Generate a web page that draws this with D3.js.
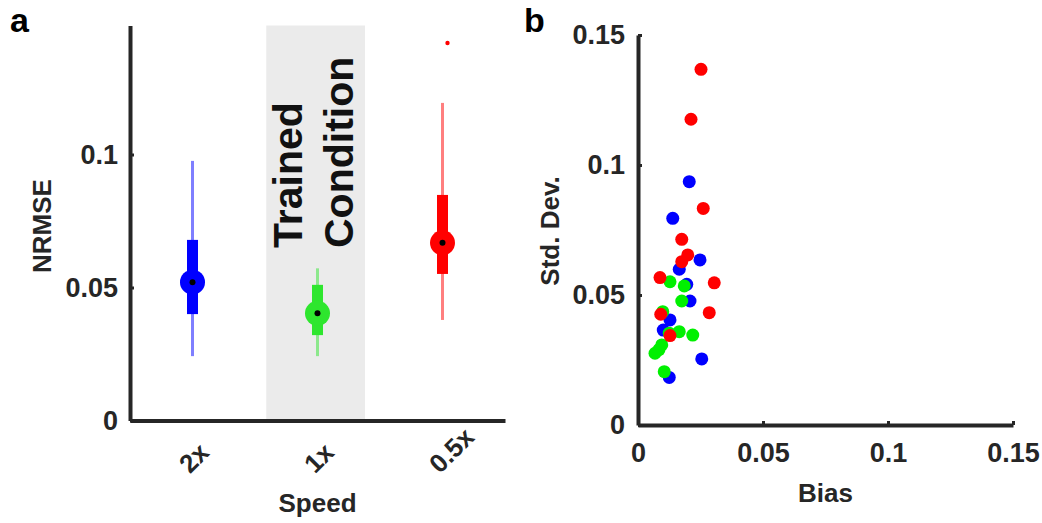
<!DOCTYPE html>
<html lang="en">
<head>
    <meta charset="UTF-8">
    <title>NRMSE by speed / bias vs std. dev.</title>
    <script src="https://d3js.org/d3.v7.min.js"></script>
    <style>
        body { margin: 0; background: #fff; }
        svg { display: block; font-family: "Liberation Sans", Arial, sans-serif; }
        .axis path, .axis line { stroke: #262626; }
        .axis path { stroke-width: 4px; }
        .axis line { stroke-width: 3px; }
        .axis text { fill: #262626; font-size: 27px; font-weight: bold; font-family: "Liberation Sans", Arial, sans-serif; }
        .lbl { fill: #262626; font-size: 26px; font-weight: bold; }
    </style>
</head>
<body>
<svg id="fig" width="1042" height="523"></svg>
<script>
    // panel a: box summary per playback speed
    const speeds = ["2x", "1x", "0.5x"];
    const whiskerLow = [0.0242, 0.0242, 0.0378];
    const q1 = [0.0400, 0.0321, 0.0551];
    const medians = [0.0520, 0.0403, 0.0668];
    const q3 = [0.0679, 0.0510, 0.0848];
    const whiskerHigh = [0.0976, 0.0572, 0.1194];
    const outliers = [{ group: 2, jitter: 0.04, value: 0.1419 }];
    const trainedBand = [1.59, 2.38];
    const yTicksA = [0, 0.05, 0.1];

    // panel b: bias vs std. dev. per speed
    const biasBlue = [0.0205, 0.0139, 0.0248, 0.0165, 0.0195, 0.0208, 0.0128, 0.0101, 0.0255, 0.0125];
    const sdBlue   = [0.0936, 0.0795, 0.0635, 0.0599, 0.0541, 0.0477, 0.0404, 0.0365, 0.0254, 0.0183];
    const biasGreen = [0.0128, 0.0185, 0.0175, 0.0099, 0.0165, 0.0219, 0.0125, 0.0095, 0.0084, 0.0068, 0.0105];
    const sdGreen   = [0.0551, 0.0535, 0.0477, 0.0436, 0.0359, 0.0346, 0.0353, 0.0308, 0.0290, 0.0276, 0.0205];
    const biasRed = [0.0252, 0.0212, 0.0261, 0.0175, 0.0199, 0.0175, 0.0088, 0.0305, 0.0091, 0.0285, 0.0128];
    const sdRed   = [0.1368, 0.1176, 0.0833, 0.0714, 0.0654, 0.0628, 0.0567, 0.0547, 0.0426, 0.0432, 0.0344];
    const ticksB = [0, 0.05, 0.1, 0.15];

    const colors = ["#0000ff", "#2ee62e", "#ff0000"];
    const scatterColors = ["#0000ff", "#00f000", "#ff0000"];

    const svg = d3.select("#fig");

    // ---------- panel a ----------
    const xA = d3.scaleLinear().domain([0.5, 3.5]).range([130, 505]);
    const yA = d3.scaleLinear().domain([0, 0.1485]).range([420.5, 25.5]);

    svg.append("rect")
        .attr("x", xA(trainedBand[0]))
        .attr("y", yA(0.1485))
        .attr("width", xA(trainedBand[1]) - xA(trainedBand[0]))
        .attr("height", yA(0) - yA(0.1485))
        .attr("fill", "#ebebeb");

    const tc = svg.append("text")
        .attr("class", "lbl")
        .attr("transform", `translate(${xA(1.77)},248) rotate(-90)`)
        .style("font-size", "41px")
        .style("fill", "#111");
    tc.append("tspan").attr("x", 0).attr("dy", "0.32em").text("Trained");
    tc.append("tspan").attr("x", 0).attr("dy", "1.24em").text("Condition");

    const boxes = speeds.map((s, i) => ({ i: i, lo: whiskerLow[i], q1: q1[i], med: medians[i], q3: q3[i], hi: whiskerHigh[i] }));

    const g = svg.selectAll(".box").data(boxes).enter().append("g").attr("class", "box");
    g.append("line")
        .attr("x1", d => xA(d.i + 1)).attr("x2", d => xA(d.i + 1))
        .attr("y1", d => yA(d.lo)).attr("y2", d => yA(d.hi))
        .attr("stroke", d => colors[d.i])
        .attr("stroke-opacity", 0.5)
        .attr("stroke-width", 3);
    g.append("rect")
        .attr("x", d => xA(d.i + 1) - 5.5)
        .attr("width", 11)
        .attr("y", d => yA(d.q3))
        .attr("height", d => yA(d.q1) - yA(d.q3))
        .attr("fill", d => colors[d.i]);
    g.append("circle")
        .attr("cx", d => xA(d.i + 1)).attr("cy", d => yA(d.med))
        .attr("r", 12.5)
        .attr("fill", d => colors[d.i]);
    g.append("circle")
        .attr("cx", d => xA(d.i + 1)).attr("cy", d => yA(d.med))
        .attr("r", 3)
        .attr("fill", "#000");

    svg.selectAll(".outlier").data(outliers).enter().append("circle")
        .attr("cx", d => xA(d.group + 1 + d.jitter))
        .attr("cy", d => yA(d.value))
        .attr("r", 2.2)
        .attr("fill", d => colors[d.group]);

    svg.append("g").attr("class", "axis")
        .attr("transform", `translate(${xA(0.5)},0)`)
        .call(d3.axisLeft(yA).tickValues(yTicksA).tickFormat(d3.format("")).tickSize(-4).tickSizeOuter(0).tickPadding(12));

    const xAxisA = svg.append("g").attr("class", "axis")
        .attr("transform", `translate(0,${yA(0)})`)
        .call(d3.axisBottom(xA).tickValues([1, 2, 3]).tickFormat(d => speeds[d - 1]).tickSize(0).tickSizeOuter(0));
    xAxisA.selectAll(".tick text")
        .attr("text-anchor", "start")
        .attr("y", 0).attr("dy", 0)
        .attr("transform", "translate(-3,54) rotate(-45)")
        .style("font-size", "26px");

    svg.append("text").attr("class", "lbl")
        .attr("x", xA(2)).attr("y", 512)
        .attr("text-anchor", "middle")
        .text("Speed");
    svg.append("text").attr("class", "lbl")
        .attr("transform", "translate(51,226) rotate(-90)")
        .attr("text-anchor", "middle")
        .text("NRMSE");
    svg.append("text")
        .attr("x", 10).attr("y", 32)
        .style("font-size", "34px").style("font-weight", "bold").attr("fill", "#000")
        .text("a");

    // ---------- panel b ----------
    const xB = d3.scaleLinear().domain([0, 0.15]).range([638, 1013]);
    const yB = d3.scaleLinear().domain([0, 0.15]).range([425, 35]);

    const groups = [
        { c: 0, bias: biasBlue, sd: sdBlue },
        { c: 1, bias: biasGreen, sd: sdGreen },
        { c: 2, bias: biasRed, sd: sdRed }
    ];
    groups.forEach(grp => {
        svg.append("g").selectAll("circle")
            .data(grp.bias.map((b, i) => ({ b: b, s: grp.sd[i] })))
            .enter().append("circle")
            .attr("cx", d => xB(d.b))
            .attr("cy", d => yB(d.s))
            .attr("r", 6.5)
            .attr("fill", scatterColors[grp.c]);
    });

    svg.append("g").attr("class", "axis")
        .attr("transform", `translate(${xB(0)},0)`)
        .call(d3.axisLeft(yB).tickValues(ticksB).tickFormat(d3.format("")).tickSize(-4).tickSizeOuter(0).tickPadding(13));

    svg.append("g").attr("class", "axis")
        .attr("transform", `translate(0,${yB(0)})`)
        .call(d3.axisBottom(xB).tickValues(ticksB).tickFormat(d3.format("")).tickSize(-4).tickSizeOuter(0).tickPadding(18));

    svg.append("text").attr("class", "lbl")
        .attr("x", (xB(0) + xB(0.15)) / 2).attr("y", 502)
        .attr("text-anchor", "middle")
        .text("Bias");
    svg.append("text").attr("class", "lbl")
        .attr("transform", "translate(559,231) rotate(-90)")
        .attr("text-anchor", "middle")
        .text("Std. Dev.");
    svg.append("text")
        .attr("x", 524).attr("y", 32)
        .style("font-size", "34px").style("font-weight", "bold").attr("fill", "#000")
        .text("b");
</script>
</body>
</html>
